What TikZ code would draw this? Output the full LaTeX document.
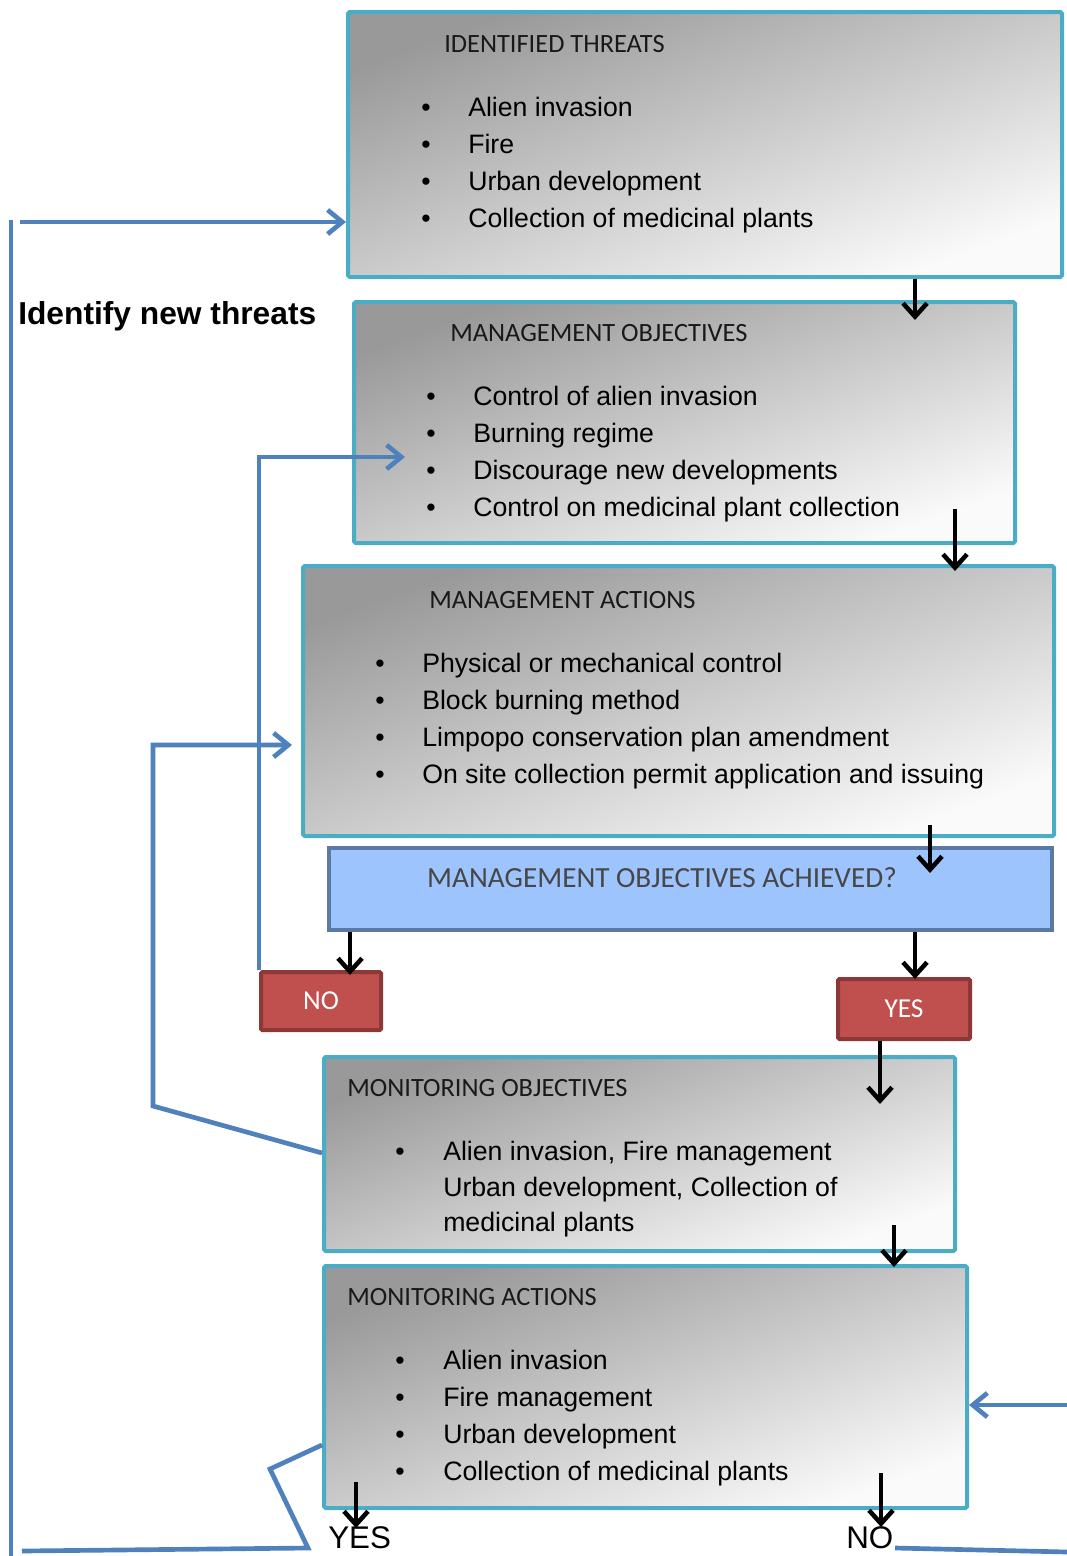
\documentclass[tikz,border=0pt]{standalone}
\usepackage{fontspec}
\setmainfont{Liberation Sans}
\newfontfamily\calib{Carlito}
\usetikzlibrary{arrows.meta,fit}
\definecolor{tealb}{HTML}{4BACC6}
\definecolor{blueln}{HTML}{4F81BD}
\definecolor{decfill}{HTML}{9EC4FE}
\definecolor{decdraw}{HTML}{5B7AA3}
\definecolor{redfill}{HTML}{C0504D}
\definecolor{reddraw}{HTML}{8C3836}
\definecolor{gradtop}{HTML}{999999}
\definecolor{gradbot}{HTML}{FAFAFA}
\begin{document}
\begin{tikzpicture}[x=0.75pt,y=-0.75pt,
 gbox/.style={draw=tealb, line width=3pt, rounded corners=1.2pt, inner sep=0pt, top color=gradtop, bottom color=gradbot, shading angle=20},
 decbox/.style={draw=decdraw, line width=3pt, fill=decfill, inner sep=0pt},
 redbox/.style={draw=reddraw, line width=3pt, fill=redfill, rounded corners=1pt, inner sep=0pt},
 ttl/.style={anchor=base west, inner sep=0pt, font=\calib\fontsize{19.8}{24}\selectfont, text=black!90},
 itm/.style={anchor=base west, inner sep=0pt, font=\fontsize{20}{24}\selectfont},
 bul/.style={anchor=base, inner sep=0pt, font=\fontsize{20}{24}\selectfont},
 redtxt/.style={inner sep=0pt, font=\calib\fontsize{20.5}{24}\selectfont, text=white},
 bluearrow/.style={draw=blueln, line width=3.5pt, -{Straight Barb[length=11pt,width=18pt]}},
 blueline/.style={draw=blueln, line width=3.5pt},
 blackarrow/.style={draw=black, line width=3.4pt, -{Straight Barb[length=10pt,width=18pt]}},
]
\useasboundingbox[fill=white] (0,0) rectangle (1067,1556);

% ---------- boxes ----------
\node[gbox, fit={(348,12)(1062,277)}] (t1) {};
\node[gbox, fit={(354,302)(1015,543)}] (o1) {};
\node[gbox, fit={(303,566)(1054,836)}] (a1) {};
\node[decbox, fit={(329,848)(1052,930)}] (dec) {};
\node[redbox, fit={(261,972)(381,1030)}] (no) {};
\node[redbox, fit={(838,979)(970,1039)}] (yes) {};
\node[gbox, fit={(324,1057)(955,1251)}] (mo) {};
\node[gbox, fit={(324,1266)(967,1508)}] (m2) {};

% ---------- texts ----------
\node[ttl] (t1t) at (444,52) {IDENTIFIED THREATS};
\foreach \yy/\txt [count=\i] in {116/Alien invasion,153/Fire,190/Urban development,227/Collection of medicinal plants}{
  \node[bul] (t1b\i) at (426,\yy) {•};
  \node[itm] (t1i\i) at (468,\yy) {\txt};
}
\node[ttl] (o1t) at (450,341) {MANAGEMENT OBJECTIVES};
\foreach \yy/\txt [count=\i] in {405/Control of alien invasion,442/Burning regime,479/Discourage new developments,516/Control on medicinal plant collection}{
  \node[bul] (o1b\i) at (431,\yy) {•};
  \node[itm] (o1i\i) at (473,\yy) {\txt};
}
\node[ttl] (a1t) at (429,608) {MANAGEMENT ACTIONS};
\foreach \yy/\txt [count=\i] in {672/Physical or mechanical control,709/Block burning method,746/Limpopo conservation plan amendment,783/On site collection permit application and issuing}{
  \node[bul] (a1b\i) at (380,\yy) {•};
  \node[itm] (a1i\i) at (422,\yy) {\txt};
}
\node[inner sep=0pt, font=\calib\fontsize{21.9}{26}\selectfont, text=black!72] (dect) at (662,878) {MANAGEMENT OBJECTIVES ACHIEVED?};
\node[redtxt] (not) at (no.center) {NO};
\node[redtxt] (yest) at (yes.center) {YES};
\node[ttl] (mot) at (347,1096) {MONITORING OBJECTIVES};
\node[bul] (mob1) at (400,1160) {•};
\node[itm] (moi1) at (443,1160) {Alien invasion, Fire management};
\node[itm] (moi2) at (443,1196) {Urban development, Collection of};
\node[itm] (moi3) at (443,1231) {medicinal plants};
\node[ttl] (m2t) at (347,1305) {MONITORING ACTIONS};
\foreach \yy/\txt [count=\i] in {1369/Alien invasion,1406/Fire management,1443/Urban development,1480/Collection of medicinal plants}{
  \node[bul] (m2b\i) at (400,\yy) {•};
  \node[itm] (m2i\i) at (443,\yy) {\txt};
}
\node[anchor=base west, inner sep=0pt, font=\bfseries\fontsize{23.8}{28}\selectfont] (newthr) at (18,324) {Identify new threats};
\node[anchor=base west, inner sep=0pt, font=\fontsize{23.5}{28}\selectfont] (byes) at (328,1548) {YES};
\node[anchor=base west, inner sep=0pt, font=\fontsize{23.5}{28}\selectfont] (bno) at (846,1548) {NO};

% ---------- blue connectors ----------
\coordinate (c1) at (20,222);
\draw[bluearrow] (c1) -- (c1 -| t1.west);
\coordinate (L1) at (11,220);
\coordinate (L2) at (11,1560);
\draw[blueline] (L1) -- (L2);
\coordinate (b1) at (22,1551);
\coordinate (b2) at (308,1548);
\coordinate (b3) at (270,1469);
\coordinate (b4y) at (0,1445);
\draw[blueline] (b1) -- (b2) -- (b3) -- (m2.west |- b4y);
\coordinate (n1) at (405,457);
\draw[bluearrow] (no.north west) |- (n1);
\coordinate (mo1) at (0,1153);
\coordinate (p1) at (153,1106);
\coordinate (p2) at (292,745);
\draw[bluearrow] (mo.west |- mo1) -- (p1) |- (p2);
\coordinate (r1) at (1067,1405);
\draw[bluearrow] (r1) -- (r1 -| m2.east);
\coordinate (r2) at (895,1548);
\coordinate (r3) at (1067,1552);
\draw[blueline] (r2) -- (r3);

% ---------- black arrows ----------
\coordinate (k1) at (915,320);
\draw[blackarrow] (t1.south -| k1) -- (k1);
\coordinate (k2s) at (955,509);
\coordinate (k2) at (955,571);
\draw[blackarrow] (k2s) -- (k2);
\coordinate (k3s) at (930,825);
\coordinate (k3) at (930,873);
\draw[blackarrow] (k3s) -- (k3);
\coordinate (k4) at (350,975);
\draw[blackarrow] (dec.south -| k4) -- (k4);
\coordinate (k5) at (915,979);
\draw[blackarrow] (dec.south -| k5) -- (k5);
\coordinate (k6) at (880,1104);
\draw[blackarrow] (yes.south -| k6) -- (k6);
\coordinate (k7s) at (894,1225);
\coordinate (k7) at (894,1267);
\draw[blackarrow] (k7s) -- (k7);
\coordinate (k8s) at (356,1482);
\coordinate (k8) at (356,1528);
\draw[blackarrow] (k8s) -- (k8);
\coordinate (k9s) at (881,1473);
\coordinate (k9) at (881,1527);
\draw[blackarrow] (k9s) -- (k9);
\end{tikzpicture}
\end{document}
